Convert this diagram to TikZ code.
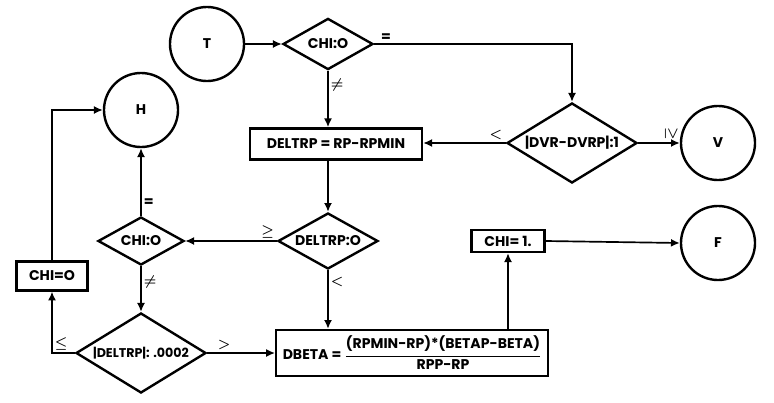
\documentclass[tikz,border=0pt]{standalone}
\usepackage{fontspec}
\setmainfont{Poppins}
\usetikzlibrary{positioning,arrows.meta,shapes.geometric}

\begin{document}
\begin{tikzpicture}[
  x=0.025cm, y=-0.025cm,
  font=\bfseries\boldmath\normalsize,
  term/.style={draw, circle, line width=1.7pt, minimum size=1.85cm, inner sep=0pt},
  test/.style={draw, diamond, line width=1.7pt, inner sep=0pt},
  op/.style={draw, rectangle, line width=1.7pt, inner sep=2pt},
  arr/.style={-{Latex[length=2.2mm,width=2mm]}, line width=1.2pt},
  lab/.style={font=\normalsize\bfseries\boldmath, inner sep=1.5pt}
]
\useasboundingbox (0,0) rectangle (774,402);

% terminals
\node[term] (T) at (207,44) {T};
\node[term] (H) at (141,110) {H};
\node[term] (V) at (718,143) {V};
\node[term] (F) at (718,243) {F};

% decisions
\node[test, minimum width=2.25cm, minimum height=1.28cm, label=center:{CHI:O}] (chitop) at (328,44) {};
\node[test, minimum width=3.25cm, minimum height=2cm, label=center:{|DVR-DVRP|:1}] (dvr) at (572,143) {};
\node[test, minimum width=2.5cm, minimum height=1.4cm, label=center:{DELTRP:O}] (deltrpo) at (328,241) {};
\node[test, minimum width=2.15cm, minimum height=1.2cm, label=center:{CHI:O}] (chilow) at (141,241) {};
\node[test, minimum width=3.25cm, minimum height=2cm, label={[font=\small\bfseries]center:{|DELTRP|: .0002}}] (absd) at (141,353) {};

% operations
\node[op, minimum width=4.3cm, minimum height=0.78cm] (deltrp) at (336,144) {DELTRP = RP-RPMIN};
\node[op, minimum width=1.78cm, minimum height=0.72cm] (chizero) at (52,276) {CHI=O};
\node[op, minimum width=1.83cm, minimum height=0.55cm] (chione) at (508,241) {CHI= 1.};
\node[op, minimum width=6.8cm, minimum height=1.15cm, anchor=west] (dbeta) at (275,353)
  {DBETA = $\displaystyle\frac{\mbox{\bfseries(RPMIN-RP)*(BETAP-BETA)}}{\mbox{\bfseries RPP-RP}}$};

% connectors
\draw[arr] (T) -- (chitop);
\draw[arr] (chitop.east) -| node[lab, pos=0.03, above] {=} (dvr.north);
\draw[arr] (chitop.south) -- node[lab, pos=0.25, right] {$\neq$} (chitop.south |- deltrp.north);
\draw[arr] (dvr.west) -- node[lab, pos=0.12, above] {$<$} (dvr.west -| deltrp.east);
\draw[arr] (dvr.east) -- node[lab, pos=0.8, rotate=-90, anchor=east] {$\geq$} (V.west);
\draw[arr] (chitop.south |- deltrp.south) -- (deltrpo.north);
\draw[arr] (deltrpo.west) -- node[lab, pos=0.1, above] {$\geq$} (chilow.east);
\draw[arr] (deltrpo.south) -- node[lab, pos=0.2, right] {$<$} (deltrpo.south |- dbeta.north);
\draw[arr] (chilow.north) -- node[lab, pos=0.2, right] {=} (H.south);
\draw[arr] (chilow.south) -- node[lab, pos=0.35, right] {$\neq$} (absd.north);
\draw[arr] (absd.west) -| node[lab, pos=0.3, above] {$\leq$} (chizero.south);
\draw[arr] (absd.east) -- node[lab, pos=0.25, above] {$>$} (dbeta.west);
\draw[arr] (chizero.north) |- (H.west);
\draw[arr] (chione.south |- dbeta.north) -- (chione.south);
\draw[arr] (chione.east) -- (F.west);
\end{tikzpicture}
\end{document}
